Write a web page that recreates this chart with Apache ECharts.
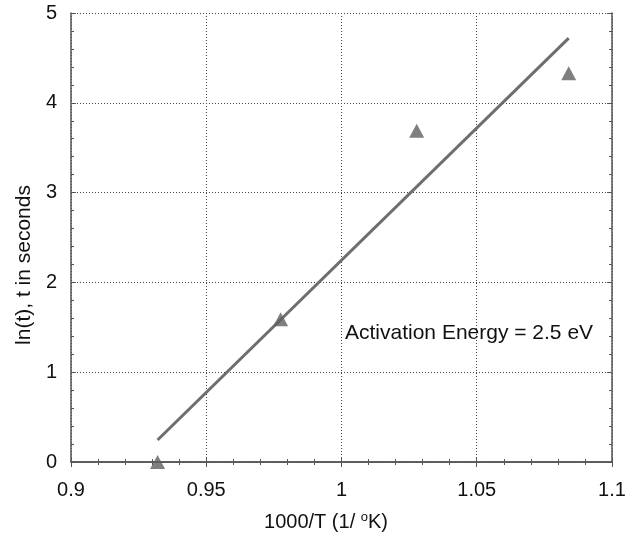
<!DOCTYPE html>
<html>
<head>
<meta charset="utf-8">
<script src="https://cdn.jsdelivr.net/npm/echarts@6/dist/echarts.min.js"></script>
<style>
  html, body { margin: 0; padding: 0; background: #fff; }
  #main { width: 640px; height: 533px; }
</style>
</head>
<body>
<div id="main"></div>
<script>
// measured points (1000/T, ln t)
var invTemp = [0.932, 0.9775, 1.0278, 1.084]
var lnTime = [0.0, 1.59, 3.69, 4.33]
// fitted line end points
var fitX = [0.932, 1.084]
var fitY = [0.245, 4.72]
var xTicks = [0.9, 0.95, 1, 1.05, 1.1]
var yTicks = [0, 1, 2, 3, 4, 5]
var note = 'Activation Energy = 2.5 eV'
var xName = '1000/T (1/ {sup|o}K)'
var yName = 'ln(t), t in seconds'

var font = 'Liberation Sans, Arial, sans-serif'
var axisColor = '#555'

var points = invTemp.map(function (x, i) { return [x, lnTime[i]] })
var fit = fitX.map(function (x, i) { return [x, fitY[i]] })

function mirrorAxis(pos) {
    return {
        type: 'value',
        position: pos,
        min: pos === 'top' ? xTicks[0] : yTicks[0],
        max: pos === 'top' ? xTicks[xTicks.length - 1] : yTicks[yTicks.length - 1],
        interval: pos === 'top' ? 0.05 : 1,
        axisLine: { show: true, lineStyle: { color: axisColor, width: 1.5 } },
        axisTick: { show: true, inside: true, length: 5, lineStyle: { color: axisColor } },
        minorTick: { show: true, splitNumber: 5, length: 3, lineStyle: { color: axisColor } },
        axisLabel: { show: false },
        splitLine: { show: false }
    }
}

var myChart = echarts.init(document.getElementById('main'))
myChart.setOption({
    animation: false,
    backgroundColor: '#fff',
    grid: { left: 71, right: 28, top: 13, bottom: 71 },
    xAxis: [{
        type: 'value',
        min: xTicks[0],
        max: xTicks[xTicks.length - 1],
        interval: 0.05,
        axisLine: { lineStyle: { color: axisColor, width: 1.5 } },
        axisTick: { inside: true, length: 5, lineStyle: { color: axisColor } },
        minorTick: { show: true, splitNumber: 5, length: 3, lineStyle: { color: axisColor } },
        axisLabel: {
            color: '#111', fontSize: 20, fontFamily: font, margin: 18,
            formatter: function (v) { return String(parseFloat(v.toFixed(2))) }
        },
        splitLine: { show: true, lineStyle: { color: '#444', type: [1, 2], width: 1 } }
    }, mirrorAxis('top')],
    yAxis: [{
        type: 'value',
        min: yTicks[0],
        max: yTicks[yTicks.length - 1],
        interval: 1,
        axisLine: { lineStyle: { color: axisColor, width: 1.5 } },
        axisTick: { inside: true, length: 5, lineStyle: { color: axisColor } },
        minorTick: { show: true, splitNumber: 5, length: 3, lineStyle: { color: axisColor } },
        axisLabel: { color: '#111', fontSize: 20, fontFamily: font, margin: 14 },
        splitLine: { show: true, lineStyle: { color: '#444', type: [1, 2], width: 1 } }
    }, mirrorAxis('right')],
    series: [{
        type: 'line',
        data: fit,
        symbol: 'none',
        lineStyle: { color: '#6e6e6e', width: 3 },
        z: 3
    }, {
        type: 'scatter',
        data: points,
        symbol: 'triangle',
        symbolSize: [15, 14],
        itemStyle: { color: '#5f5f5f' },
        z: 4
    }],
    graphic: [{
        type: 'text',
        left: 345,
        top: 323,
        style: { text: note, fill: '#111', fontSize: 21, fontFamily: font }
    }, {
        type: 'text',
        x: 326,
        y: 522,
        style: {
            text: xName, fill: '#111', fontSize: 20, fontFamily: font,
            align: 'center', verticalAlign: 'middle',
            rich: { sup: { fontSize: 13, verticalAlign: 'top', padding: [0, 0, 10, 0], fill: '#111', fontFamily: font } }
        }
    }, {
        type: 'text',
        x: 24,
        y: 265,
        rotation: Math.PI / 2,
        style: {
            text: yName, fill: '#111', fontSize: 21, fontFamily: font,
            align: 'center', verticalAlign: 'middle'
        }
    }]
})
</script>
</body>
</html>
